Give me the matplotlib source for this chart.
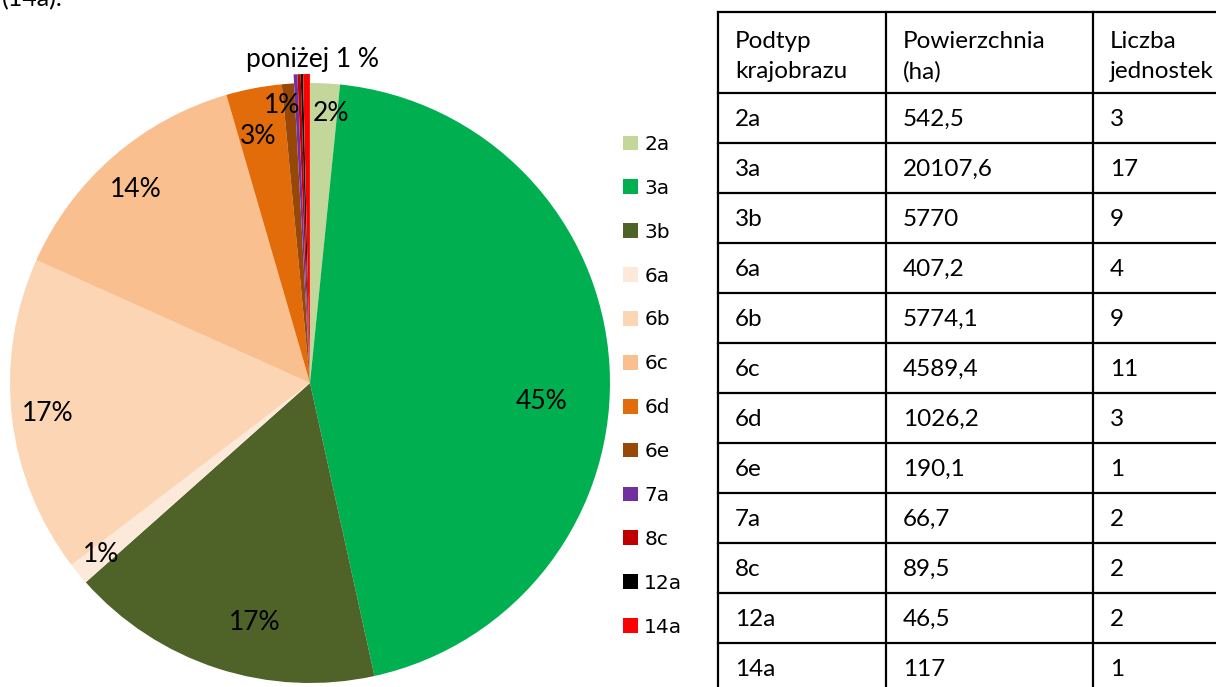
import matplotlib
matplotlib.use("Agg")
import matplotlib.pyplot as plt
import numpy as np

podtypy = ["2a", "3a", "3b", "6a", "6b", "6c", "6d", "6e", "7a", "8c", "12a", "14a"]
udzial = [1.6, 45.0, 16.9, 1.2, 17.1, 13.8, 3.0, 0.65, 0.2, 0.17, 0.12, 0.36]
kolory = ["#C4D79B", "#00B050", "#4F6228", "#FDE9D9", "#FCD5B4", "#FABF8F",
          "#E26B0A", "#974706", "#7030A0", "#C00000", "#000000", "#FF0000"]

# dane z tabeli
powierzchnia = [542.5, 20107.6, 5770, 407.2, 5774.1, 4589.4, 1026.2, 190.1, 66.7, 89.5, 46.5, 117]
liczba = [3, 17, 9, 4, 9, 11, 3, 1, 2, 2, 2, 1]
naglowki = ["Podtyp\nkrajobrazu", "Powierzchnia\n(ha)", "Liczba\njednostek"]

W, H = 1216, 687
fig = plt.figure(figsize=(W / 100, H / 100), dpi=100)
FONT = "Lato"

# --- kolo ---
ax = fig.add_axes([10 / W, (H - 683) / H, 600 / W, 600 / H])
ax.axis("off")

explode = [0.03 if p < 0.5 else 0 for p in udzial]


def fmt(p):
    return f"{p:.0f}%" if p >= 0.5 else ""


wedges, texts, autotexts = ax.pie(udzial, colors=kolory, startangle=90, counterclock=False,
                                  radius=1, explode=explode, autopct=fmt,
                                  textprops=dict(fontfamily=FONT, fontsize=19, color="black"))
ax.set_xlim(-1, 1)
ax.set_ylim(-1, 1)
for w in wedges:
    w.set_clip_on(False)

# polozenie etykiet (odleglosc od srodka, przesuniecie katowe w prawo)
label_r = [0.90, 0.775, 0.82, 0.90, 0.88, 0.87, 0.84, 0.93, 0, 0, 0, 0]
label_shift = [1.5, 8, -5, 0, 0, -1, -1, -1.5, 0, 0, 0, 0]
for w, t, r, s in zip(wedges, autotexts, label_r, label_shift):
    ang = np.deg2rad((w.theta1 + w.theta2) / 2 - s)
    t.set_position((r * np.cos(ang), r * np.sin(ang)))
    t.set_ha("center")
    t.set_va("center")

ax.text(0.01, 1.035, "poniżej 1 %", ha="center", va="bottom", fontfamily=FONT, fontsize=19)

# --- legenda ---
fig.legend(wedges, podtypy, loc="upper left", bbox_to_anchor=(623 / W, 1 - 135 / H),
           frameon=False, prop=dict(family="DejaVu Sans", size=14.5),
           handlelength=0.75, handleheight=0.75, handletextpad=0.3,
           labelspacing=1.235, borderpad=0, borderaxespad=0)

# --- tabela ---
tx = fig.add_axes([0, 0, 1, 1])
tx.set_xlim(0, W)
tx.set_ylim(H, 0)
tx.axis("off")
tx.patch.set_alpha(0)

col_x = [718, 886, 1093, 1400]
row_y = [12, 93] + [93 + 50 * (i + 1) for i in range(len(podtypy))]
for x in col_x:
    tx.plot([x, x], [row_y[0], row_y[-1]], color="black", lw=1.6, clip_on=False)
for y in row_y:
    tx.plot([col_x[0], col_x[-1]], [y, y], color="black", lw=1.6, clip_on=False)


def liczba_pl(v):
    return f"{v:g}".replace(".", ",")


for j, h in enumerate(naglowki):
    tx.text(col_x[j] + 17, (row_y[0] + row_y[1]) / 2 + 4, h, ha="left", va="center",
            fontfamily=FONT, fontsize=17.5, linespacing=1.5)

for i in range(len(podtypy)):
    yc = (row_y[i + 1] + row_y[i + 2]) / 2 + 1
    row = [podtypy[i], liczba_pl(powierzchnia[i]), str(liczba[i])]
    for j, val in enumerate(row):
        tx.text(col_x[j] + 17, yc, val, ha="left", va="center", fontfamily=FONT, fontsize=17.5)

# ucięty fragment tekstu nad wykresem
tx.text(2, 6, "(14a).", ha="left", va="baseline", fontfamily=FONT, fontsize=18)

fig.savefig("out.png", dpi=100)
